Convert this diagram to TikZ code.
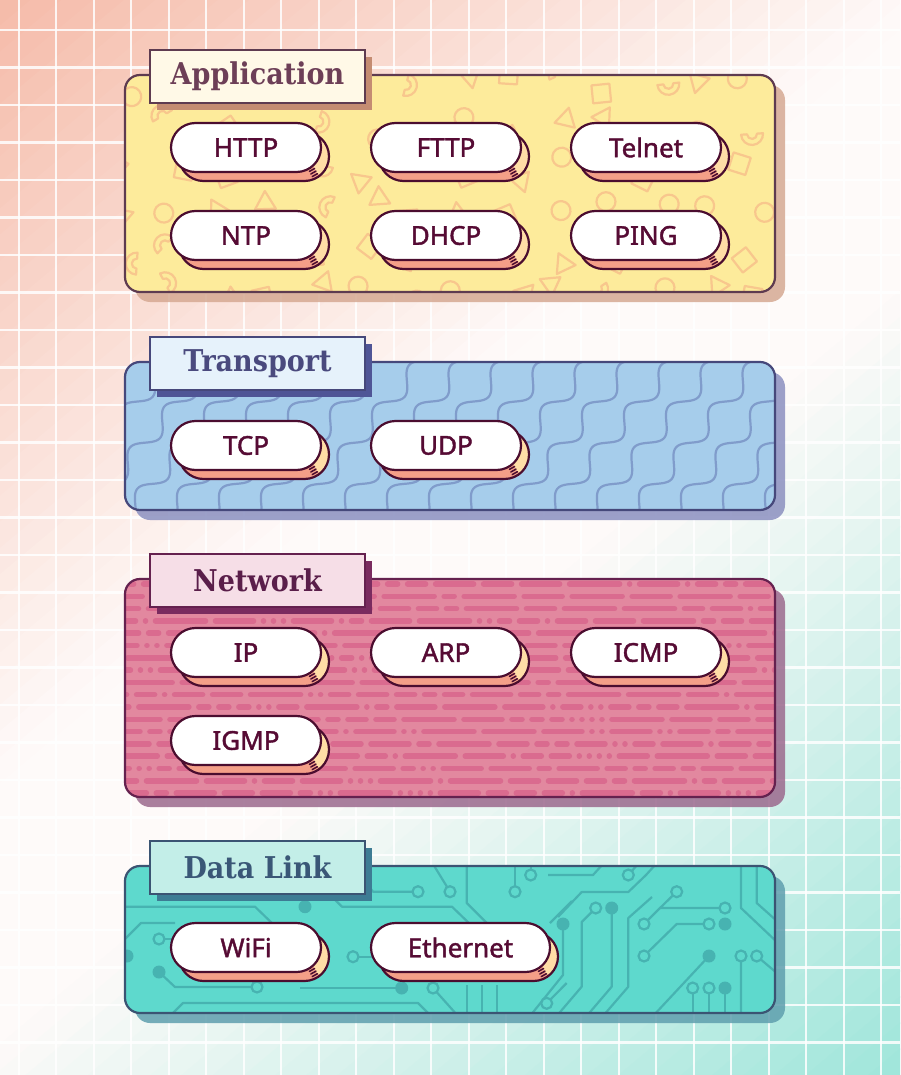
\documentclass[tikz,border=0pt]{standalone}
\usepackage{fontspec}
\usetikzlibrary{shadows}
\newfontfamily\titlefont{DejaVu Serif}[FakeStretch=0.9]
\newfontfamily\pillfont{Noto Sans}[FakeBold=1.6]
\definecolor{bgA}{HTML}{F5BBA9}
\definecolor{bgM}{HTML}{FEFAF9}
\definecolor{bgB}{HTML}{9CE5D9}
\definecolor{appfill}{HTML}{FDEB9B}
\definecolor{appedge}{HTML}{5E3B50}
\definecolor{appshadow}{HTML}{D6A993}
\definecolor{applab}{HTML}{FFF9E7}
\definecolor{applabsh}{HTML}{C48C72}
\definecolor{apptext}{HTML}{6D3F57}
\definecolor{appshape}{HTML}{F8C78D}
\definecolor{trfill}{HTML}{A6CDEB}
\definecolor{tredge}{HTML}{46487B}
\definecolor{trshadow}{HTML}{8C90C0}
\definecolor{trlab}{HTML}{E6F2FB}
\definecolor{trlabsh}{HTML}{4F5596}
\definecolor{trtext}{HTML}{4A4A7E}
\definecolor{trwave}{HTML}{809CCB}
\definecolor{netfill}{HTML}{E2889F}
\definecolor{netedge}{HTML}{65214F}
\definecolor{netshadow}{HTML}{9C6A8E}
\definecolor{netlab}{HTML}{F6DEE7}
\definecolor{netlabsh}{HTML}{7A2B5F}
\definecolor{nettext}{HTML}{5A1E4A}
\definecolor{netdash}{HTML}{DA6B8F}
\definecolor{dlfill}{HTML}{5ED9CD}
\definecolor{dledge}{HTML}{3B5473}
\definecolor{dlshadow}{HTML}{5F9FAE}
\definecolor{dllab}{HTML}{C3EEE8}
\definecolor{dllabsh}{HTML}{3D7C94}
\definecolor{dltext}{HTML}{3A5777}
\definecolor{dltrace}{HTML}{47B3B1}
\definecolor{pilledge}{HTML}{4B0D2F}
\definecolor{pilltext}{HTML}{560B34}
\definecolor{peach}{HTML}{F49F88}
\definecolor{pyellow}{HTML}{FFDDA6}
\newcommand{\pillbox}[5]{%
  \fill[peach, rounded corners=24.5] (#2+8,#3+9) rectangle (#2+#4+8,#3+58);
  \begin{scope}
    \clip[rounded corners=24.5] (#2+8,#3+9) rectangle (#2+#4+8,#3+58);
    \fill[pyellow] (#2+#4-30,#3) -- (#2+#4+14,#3) -- (#2+#4+14,#3+64) -- (#2+#4-4,#3+50) -- cycle;
  \end{scope}
  \draw[pillline, rounded corners=24.5] (#2+8,#3+9) rectangle (#2+#4+8,#3+58);
  \draw[pillline, line width=1.5, line cap=round] (#2+#4-11.6,#3+48.4) -- ++(5.2,-2.9) (#2+#4-10.2,#3+51) -- ++(5.2,-2.9) (#2+#4-8.8,#3+53.6) -- ++(5.2,-2.9);
  \node[pill, minimum width=#4] (#1) at (#2+#4/2,#3+24.5) {#5};
}
\begin{document}
\begin{tikzpicture}[x=1pt,y=-1pt,
  gridline/.style={white, line width=2.2, opacity=0.85},
  lab/.style={line width=2, inner sep=0, minimum width=215, minimum height=53,
    font=\titlefont\bfseries\fontsize{30}{36}\selectfont},
  pillline/.style={draw=pilledge, line width=2.2},
  pill/.style={pillline, fill=white, rounded corners=24.5, minimum height=49, inner sep=0,
    text=pilltext, font=\pillfont\fontsize{26}{30}\selectfont},
  appshape/.style={draw=appshape, line width=2.2, line join=round},
  wave/.style={draw=trwave, line width=2.2},
  ndash/.style={draw=netdash, line width=5.5, line cap=round},
  trace/.style={draw=dltrace, line width=2.2, line join=round},
  odot/.style={draw=dltrace, fill=dlfill, line width=2.2},
  fdot/.style={fill=dltrace},
  boxshadow/.style={rounded corners=15, opacity=0.85},
  boxedge/.style={line width=2.2, rounded corners=15}
]
\useasboundingbox (0,0) rectangle (900,1075);
% diagonal background gradient, drawn as bands
\begin{scope}
\clip (0,0) rectangle (900,1075);
\foreach \b in {0,...,70}{
  \pgfmathsetmacro\sa{\b*20.03-0.6}
  \pgfmathsetmacro\sb{\b*20.03+20.6}
  \pgfmathsetmacro\tt{(\b+0.5)/71}
  \pgfmathsetmacro\pa{\tt<0.42 ? 100*(1-\tt/0.42) : 0}
  \pgfmathsetmacro\pb{\tt>0.56 ? 100*((\tt-0.56)/0.44) : 0}
  \pgfmathsetmacro\isA{\tt<0.42 ? 1 : 0}
  \ifdim\isA pt>0.5pt \colorlet{bandc}{bgA!\pa!bgM}\else\colorlet{bandc}{bgB!\pb!bgM}\fi
  \fill[bandc] ({\sa*0.642+1200*0.767},{\sa*0.767-1200*0.642}) -- ({\sb*0.642+1200*0.767},{\sb*0.767-1200*0.642})
     -- ({\sb*0.642-1200*0.767},{\sb*0.767+1200*0.642}) -- ({\sa*0.642-1200*0.767},{\sa*0.767+1200*0.642}) -- cycle;
}
\end{scope}
\foreach \i in {0,...,23} \draw[gridline] (18.75+37.5*\i,0) -- ++(0,1075);
\foreach \j in {0,...,28} \draw[gridline] (0,30+37.5*\j) -- ++(900,0);

% ---------------- Application
\fill[appshadow, boxshadow] (135,85) rectangle (785,302);
\fill[appfill, rounded corners=15] (125,75) rectangle (775,292);
\begin{scope}
\clip[rounded corners=15] (125,75) rectangle (775,292);
\pgfmathsetseed{11}
\foreach \i in {0,...,13}{\foreach \j in {0,...,5}{
  \pgfmathsetmacro\px{112+\i*48+rnd*30}
  \pgfmathsetmacro\py{72+\j*42+rnd*26}
  \pgfmathsetmacro\rot{rnd*360}
  \pgfmathrandominteger{\kind}{1}{4}
  \begin{scope}[shift={(\px,\py)}, rotate=\rot]
   \ifcase\kind\or \draw[appshape] (0,0) circle (9.5);
   \or \draw[appshape] (-9,-9) rectangle (9,9);
   \or \draw[appshape] (90:12) -- (210:12) -- (330:12) -- cycle;
   \or \draw[appshape] (11,0) arc (0:180:11) -- (-5,0) arc (180:0:5) -- cycle;
   \fi
  \end{scope}
}}
\end{scope}
\draw[appedge, boxedge] (125,75) rectangle (775,292);
\node[lab, fill=applab, draw=appedge, text=apptext,
  drop shadow={shadow xshift=7pt, shadow yshift=-7pt, fill=applabsh, opacity=1}] (tApp) at (257.5,76.5) {Application};

% ---------------- Transport
\fill[trshadow, boxshadow] (135,372) rectangle (785,520);
\fill[trfill, rounded corners=15] (125,362) rectangle (775,510);
\begin{scope}
\clip[rounded corners=15] (125,362) rectangle (775,510);
\foreach \k in {0,...,22}
  \draw[wave] plot[domain=0:250, samples=150, smooth]
   ({-50+42*\k + \x*cos(50) + 8.5*sin(\x*6.7)*sin(50)}, {525 - \x*sin(50) + 8.5*sin(\x*6.7)*cos(50)});
\end{scope}
\draw[tredge, boxedge] (125,362) rectangle (775,510);
\node[lab, fill=trlab, draw=tredge, text=trtext,
  drop shadow={shadow xshift=7pt, shadow yshift=-7pt, fill=trlabsh, opacity=1}] (tTr) at (257.5,363.5) {Transport};

% ---------------- Network
\fill[netshadow, boxshadow] (135,589) rectangle (785,807);
\fill[netfill, rounded corners=15] (125,579) rectangle (775,797);
\begin{scope}
\clip[rounded corners=15] (125,579) rectangle (775,797);
\pgfmathsetseed{5}
\foreach \r in {0,...,17}{
  \pgfmathsetmacro\yy{584+12.3*\r}
  \pgfmathsetmacro\xs{120-rnd*30}
  \global\let\curx\xs
  \foreach \k in {1,...,36}{
    \pgfmathrandominteger{\dtype}{1}{7}
    \ifcase\dtype\or\def\dlen{0}\or\def\dlen{0}\or\def\dlen{10}\or\def\dlen{18}\or\def\dlen{28}\or\def\dlen{38}\or\def\dlen{50}\fi
    \draw[ndash] (\curx,\yy) -- ++(\dlen+0.05,0);
    \pgfmathsetmacro\nx{\curx+\dlen+10}
    \global\let\curx\nx
  }
}
\end{scope}
\draw[netedge, boxedge] (125,579) rectangle (775,797);
\node[lab, fill=netlab, draw=netedge, text=nettext,
  drop shadow={shadow xshift=7pt, shadow yshift=-7pt, fill=netlabsh, opacity=1}] (tNet) at (257.5,580.5) {Network};

% ---------------- Data Link
\fill[dlshadow, boxshadow] (135,876) rectangle (785,1023);
\fill[dlfill, rounded corners=15] (125,866) rectangle (775,1013);
\begin{scope}
\clip[rounded corners=15] (125,866) rectangle (775,1013);
\draw[trace] (120,906.7) -- (255,906.7) -- (275,926);
\draw[trace] (120,944) -- (141,923) -- (175,923);
\draw[trace] (159,939) -- (175,939);
\draw[trace] (159,972) -- (175,987) -- (251,987);
\draw[trace] (170,1016) -- (183,1003) -- (418,1003) -- (431,1016);
\draw[trace] (325,890) -- (342,906.7) -- (452,906.7) -- (472,926);
\draw[trace] (353,866) -- (373,891.7) -- (418,891.7);
\draw[trace] (450,891.7) -- (433,864);
\draw[trace] (466.7,864) -- (466.7,903) -- (486.7,923);
\draw[trace] (515,864) -- (515,891.7);
\draw[trace] (530.7,864) -- (530.7,875);
\draw[trace] (353,956.7) -- (372,956.7);
\draw[trace] (300,988) -- (401.7,988);
\draw[trace] (433,988) -- (458,1016);
\draw[trace] (466.7,985) -- (466.7,1016) (481.7,985) -- (481.7,1016) (496.7,985) -- (496.7,1016);
\draw[trace] (546.7,1003.3) -- (566.7,983);
\draw[trace] (550,923) -- (572,901);
\draw[trace] (628.3,875) -- (638,864);
\draw[trace] (548,875) -- (593,875) -- (603,864);
\draw[trace] (558,917) -- (581.7,892) -- (628.3,892) -- (646,875) -- (656,864);
\draw[trace] (595.7,908) -- (581.7,922) -- (581.7,986.7) -- (556.7,1016);
\draw[trace] (611.7,908) -- (611.7,986.7) -- (586.7,1016);
\draw[trace] (563,924) -- (563,975) -- (530,1016);
\draw[trace] (652,897) -- (628.3,918) -- (628.3,986.7) -- (603,1016);
\draw[trace] (676.7,891.7) -- (660,908) -- (725,908);
\draw[trace] (660,908) -- (644,924);
\draw[trace] (709,924) -- (676.7,924) -- (644,956);
\draw[trace] (709,956) -- (653,1016);
\draw[trace] (692.7,988) -- (692.7,1016) (709,988) -- (709,1016) (725,988) -- (725,1016);
\draw[trace] (741,956) -- (741,1016) (756.7,956) -- (778,974);
\draw[trace] (741,864) -- (741,908) -- (778,943);
\draw[trace] (756.7,864) -- (756.7,903) -- (778,922);
\foreach \p in {(418,891.7),(450,891.7),(515,891.7),(530.7,875),(353,956.7),(433,988),(546.7,1003.3),(159,939),(257,987),(628.3,875),(595.7,908),(676.7,891.7),(725,908),(644,924),(709,924),(644,956),(692.7,988),(709,988),(741,956),(756.7,956)}
  \filldraw[odot] \p circle (5.5);
\foreach \p in {(127,956),(159,972),(305,906.7),(401.7,988),(563,924),(611.7,908),(725,924),(709,956),(725,988)}
  \fill[fdot] \p circle (6.5);
\end{scope}
\draw[dledge, boxedge] (125,866) rectangle (775,1013);
\node[lab, fill=dllab, draw=dledge, text=dltext,
  drop shadow={shadow xshift=7pt, shadow yshift=-7pt, fill=dllabsh, opacity=1}] (tDl) at (257.5,867.5) {Data Link};

% ---------------- Pills
\pillbox{http}{171}{123}{150}{HTTP}
\pillbox{fttp}{371}{123}{150}{FTTP}
\pillbox{telnet}{571}{123}{150}{Telnet}
\pillbox{ntp}{171}{211}{150}{NTP}
\pillbox{dhcp}{371}{211}{150}{DHCP}
\pillbox{ping}{571}{211}{150}{PING}
\pillbox{tcp}{171}{421}{150}{TCP}
\pillbox{udp}{371}{421}{150}{UDP}
\pillbox{ip}{171}{628}{150}{IP}
\pillbox{arp}{371}{628}{150}{ARP}
\pillbox{icmp}{571}{628}{150}{ICMP}
\pillbox{igmp}{171}{716}{150}{IGMP}
\pillbox{wifi}{171}{923}{150}{WiFi}
\pillbox{ethernet}{371}{923}{179}{Ethernet}
\end{tikzpicture}
\end{document}
